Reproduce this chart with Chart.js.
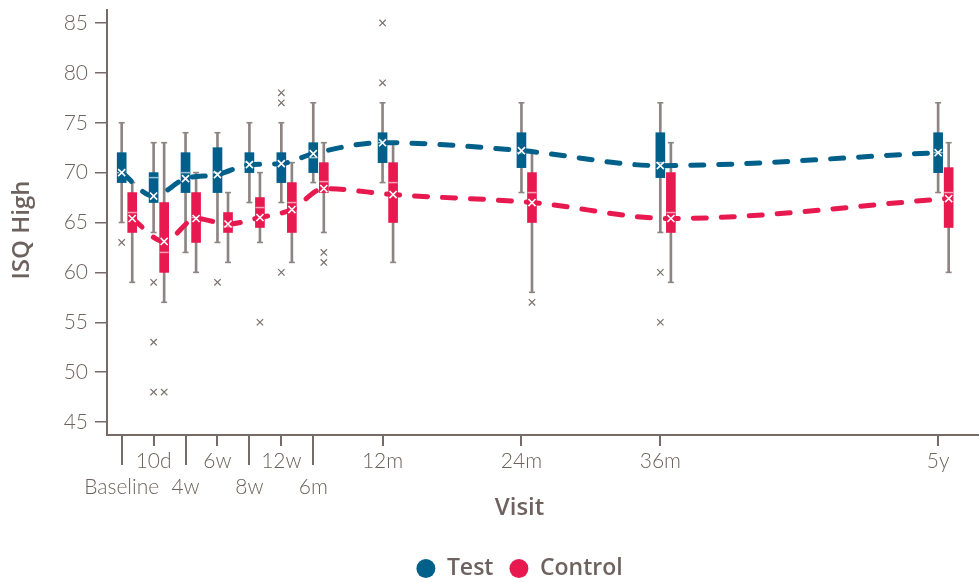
<!DOCTYPE html>
<html><head><meta charset="utf-8">
<script src="https://cdn.jsdelivr.net/npm/chart.js@4.4.1/dist/chart.umd.min.js"></script>
<style>html,body{margin:0;padding:0;background:#fff}</style>
</head><body>
<canvas id="c" width="979" height="582"></canvas>
<script>
// ---- data ----
const visits = ['Baseline','10d','4w','6w','8w','12w','6m','12m','24m','36m','5y'];
const visitPos = [0, 1, 2, 3, 4, 5, 6, 8.17, 12.52, 16.87, 25.57];
const yTickValues = [45, 50, 55, 60, 65, 70, 75, 80, 85];

const testMean   = [70.0, 67.65, 69.4, 69.8, 70.8, 70.9, 71.9, 73.0, 72.2, 70.7, 72.0];
const testMedian = [70.0, 69.5, 70.0, 70.0, 71.0, 71.0, 71.5, 73.0, 72.0, 71.0, 72.0];
const testQ1     = [69, 67, 68, 68, 70, 69, 70, 71, 70.5, 69.5, 70];
const testQ3     = [72, 70, 72, 72.5, 72, 72, 73, 74, 74, 74, 74];
const testLow    = [65, 64, 62, 63, 67, 67, 69, 69, 68, 64, 68];
const testHigh   = [75, 73, 74, 74, 75, 75, 77, 77, 77, 77, 77];
const testOutliers = [[63], [59, 53, 48], [], [59], [], [78, 77, 60], [], [85, 79], [], [60, 55], []];

const controlMean   = [65.4, 63.1, 65.4, 64.85, 65.5, 66.3, 68.4, 67.8, 67.0, 65.4, 67.4];
const controlMedian = [66.0, 62.0, 65.5, 64.6, 66.5, 67.0, 69.1, 69.0, 68.0, 66.0, 68.0];
const controlQ1     = [64, 60, 63, 64, 64.5, 64, 68, 65, 65, 64, 64.5];
const controlQ3     = [68, 67, 68, 66, 67.5, 69, 71, 71, 70, 70, 70.5];
const controlLow    = [59, 57, 60, 61, 63, 61, 64, 61, 58, 59, 60];
const controlHigh   = [69, 73, 70, 68, 70, 71, 73, 73, 72, 73, 73];
const controlOutliers = [[], [48], [], [], [55], [], [62, 61], [], [57], [], []];

// ---- style ----
const BLUE = '#00608a', RED = '#e8194f', GREY = '#8e8583', OUT = '#7a706d';
const TEXT = '#6d625e', AXIS = '#776b67';
const CTRL_SHIFT = 0.33; // horizontal offset of control boxes (x units)
const lowerRow = i => i < 7 && i % 2 === 0;

const pts = (vals, shift) => vals.map((v, i) => ({x: visitPos[i] + shift, y: v}));
const rng = (lo, hi, shift) => lo.map((v, i) => ({x: visitPos[i] + shift, y: [v, hi[i]]}));
const capPts = (lo, hi, shift) => pts(lo, shift).concat(pts(hi, shift));
const outPts = (arr, shift) => arr.flatMap((vs, i) => vs.map(v => ({x: visitPos[i] + shift, y: v})));

function group(label, color, mean, med, q1, q3, lo, hi, outs, shift) {
  return [
    {type: 'bar', label: label + ' whisker', data: rng(lo, hi, shift), backgroundColor: GREY,
     barThickness: 2, grouped: false, order: 20},
    {type: 'scatter', label: label + ' caps', data: capPts(lo, hi, shift), pointStyle: 'line',
     pointRadius: 3, borderColor: GREY, borderWidth: 1.6, order: 19},
    {type: 'bar', label: label + ' box', data: rng(q1, q3, shift), backgroundColor: color,
     barThickness: 9, grouped: false, order: 18},
    {type: 'scatter', label: label + ' median', data: pts(med, shift), pointStyle: 'line',
     pointRadius: 4.5, borderColor: 'rgba(255,255,255,0.6)', borderWidth: 1.5, order: 17},
    {type: 'line', label: label, data: pts(mean, shift), borderColor: color, backgroundColor: color,
     borderWidth: 5, borderDash: [13, 15], borderCapStyle: 'round', pointRadius: 0,
     cubicInterpolationMode: 'monotone', fill: false, order: 5},
    {type: 'scatter', label: label + ' mean', data: pts(mean, shift), pointStyle: 'crossRot',
     pointRadius: 5, borderColor: '#ffffff', borderWidth: 1.6, order: 3},
    {type: 'scatter', label: label + ' outliers', data: outPts(outs, shift), pointStyle: 'crossRot',
     pointRadius: 4.5, borderColor: OUT, borderWidth: 1.2, order: 2}
  ];
}

const datasets = [].concat(
  group('Test', BLUE, testMean, testMedian, testQ1, testQ3, testLow, testHigh, testOutliers, 0),
  group('Control', RED, controlMean, controlMedian, controlQ1, controlQ3, controlLow, controlHigh, controlOutliers, CTRL_SHIFT)
);

const tickFont = {family: 'Lato', size: 21, weight: '300'};
const titleFont = '600 24px "Open Sans"';

const decor = {
  id: 'decor',
  afterLayout(chart) {
    const lg = chart.legend;
    if (lg) { lg.left += 30; lg.right += 30; lg.top += 8; lg.bottom += 8; }
    // let the plot area run to the right edge of the canvas
    const xs = chart.scales.x, W = chart.width, ca = chart.chartArea;
    if (xs.right < W) {
      xs.right = W; xs.width = W - xs.left; xs.configure();
      ca.right = W; ca.width = W - ca.left;
    }
  },
  afterDraw(chart) {
    const ctx = chart.ctx, xs = chart.scales.x;
    ctx.save();
    ctx.strokeStyle = AXIS; ctx.lineWidth = 2;
    visitPos.forEach((p, i) => {
      if (!lowerRow(i)) return;
      const px = Math.round(xs.getPixelForValue(p));
      ctx.beginPath(); ctx.moveTo(px, xs.top + 10); ctx.lineTo(px, xs.top + 30); ctx.stroke();
    });
    ctx.fillStyle = TEXT; ctx.font = titleFont;
    ctx.textAlign = 'center'; ctx.textBaseline = 'middle';
    ctx.fillText('Visit', 519.5, 508);
    ctx.translate(22, 230); ctx.rotate(-Math.PI / 2);
    ctx.fillText('ISQ High', 0, 0);
    ctx.restore();
  }
};

new Chart(document.getElementById('c'), {
  type: 'scatter',
  data: {datasets},
  plugins: [decor],
  options: {
    responsive: false, animation: false, events: [],
    layout: {padding: {top: 10, right: 0, left: 0, bottom: 0}},
    scales: {
      x: {
        type: 'linear', min: -0.46, max: 26.85, offset: false,
        afterBuildTicks: s => { s.ticks = visitPos.map(v => ({value: v})); },
        afterFit: s => {
          s.height = s.chart.height - 435 - (s.chart.legend ? s.chart.legend.height : 0);
          s.paddingLeft = 0; s.paddingRight = 0;
        },
        ticks: {
          autoSkip: false, maxRotation: 0, minRotation: 0, padding: 3, color: TEXT, font: tickFont,
          callback: (v, i) => lowerRow(i) ? ['', visits[i]] : [visits[i]]
        },
        grid: {display: true, offset: false, drawOnChartArea: false, drawTicks: true, tickLength: 11, color: AXIS, lineWidth: 2},
        border: {display: true, color: AXIS, width: 2}
      },
      y: {
        type: 'linear', min: 43.7, max: 86.3,
        afterBuildTicks: s => { s.ticks = yTickValues.map(v => ({value: v})); },
        afterFit: s => { s.width = 107; s.paddingTop = 0; s.paddingBottom = 0; },
        ticks: {padding: 7, color: TEXT, font: tickFont},
        grid: {display: true, offset: false, drawOnChartArea: false, drawTicks: true, tickLength: 12, color: AXIS, lineWidth: 1.5},
        border: {display: true, color: AXIS, width: 2}
      }
    },
    plugins: {
      tooltip: {enabled: false},
      legend: {
        position: 'bottom', onClick: null,
        labels: {
          usePointStyle: true, boxWidth: 19, boxHeight: 13.4, padding: 16, color: TEXT,
          font: {family: 'Open Sans', size: 23, weight: '600'},
          generateLabels: () => [
            {text: 'Test', fillStyle: BLUE, strokeStyle: BLUE, lineWidth: 0, pointStyle: 'circle', hidden: false, fontColor: TEXT},
            {text: 'Control', fillStyle: RED, strokeStyle: RED, lineWidth: 0, pointStyle: 'circle', hidden: false, fontColor: TEXT}
          ]
        }
      }
    }
  }
});
</script>
</body></html>
